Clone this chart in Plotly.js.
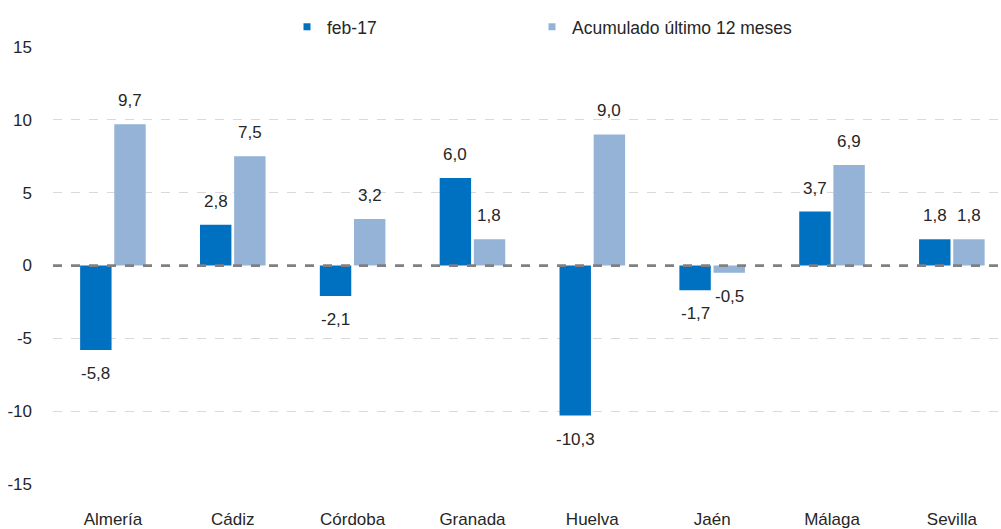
<!DOCTYPE html>
<html><head><meta charset="utf-8">
<script src="https://cdn.plot.ly/plotly-3.0.1.min.js"></script>
<style>html,body{margin:0;padding:0;background:#fff;}#chart{width:1001px;height:529px;}</style>
</head><body><div id="chart"></div>
<script>
var categories = ["Almería","Cádiz","Córdoba","Granada","Huelva","Jaén","Málaga","Sevilla"];
var seriesNames = ["feb-17","Acumulado último 12 meses"];
var seriesColors = ["#0070C0","#95B3D7"];
var febValues = [-5.8, 2.8, -2.1, 6.0, -10.3, -1.7, 3.7, 1.8];
var acumValues = [9.7, 7.5, 3.2, 1.8, 9.0, -0.5, 6.9, 1.8];
var yTicks = [-15, -10, -5, 0, 5, 10, 15];

var FONT = "Liberation Sans, Arial, sans-serif";
var TXT = '#262626';
var fmt = function(v){ return v.toFixed(1).replace('.', ','); };

var traces = [
  {type:'bar', name:seriesNames[0], x:categories, y:febValues, marker:{color:seriesColors[0]}, hoverinfo:'none', showlegend:false},
  {type:'bar', name:seriesNames[1], x:categories, y:acumValues, marker:{color:seriesColors[1]}, hoverinfo:'none', showlegend:false},
  // legend-only entries with small square markers (like the reference)
  {type:'scatter', mode:'markers', name:seriesNames[0], x:[null], y:[null], legend:'legend',
   marker:{symbol:'square', size:7, color:seriesColors[0]}, hoverinfo:'none'},
  {type:'scatter', mode:'markers', name:seriesNames[1], x:[null], y:[null], legend:'legend2',
   marker:{symbol:'square', size:7, color:seriesColors[1]}, hoverinfo:'none'}
];

var annotations = [];
[febValues, acumValues].forEach(function(vals, si){
  vals.forEach(function(v, i){
    annotations.push({
      x: categories[i], y: v, xref:'x', yref:'y',
      text: fmt(v), showarrow:false,
      xshift: si === 0 ? -17 : 17,
      yanchor: v >= 0 ? 'bottom' : 'top',
      yshift: v >= 0 ? 12 : -12,
      font:{family:FONT, size:17, color:TXT}
    });
  });
});

var legendBase = {orientation:'h', xanchor:'left', y:1.046, yanchor:'middle',
  font:{family:FONT, size:17.5, color:TXT}, itemwidth:30, bgcolor:'rgba(0,0,0,0)'};

var layout = {
  width:1001, height:529,
  margin:{l:53, r:0, t:47, b:45},
  paper_bgcolor:'#fff', plot_bgcolor:'#fff',
  font:{family:FONT, size:17, color:TXT},
  barmode:'group', bargap:0.43, bargroupgap:0.08,
  showlegend:true,
  legend:Object.assign({}, legendBase, {x:(287-53)/948}),
  legend2:Object.assign({}, legendBase, {x:(532-53)/948}),
  xaxis:{range:[-0.5, 7.41], showgrid:false, zeroline:false, showline:false, ticks:'',
         ticklabelstandoff:23, tickfont:{family:FONT, size:17, color:TXT}},
  yaxis:{range:[-15, 15], tickvals:yTicks, ticktext:yTicks.map(String),
         showgrid:true, gridcolor:'#D9D9D9', griddash:'dash', gridwidth:1,
         zeroline:false, showline:false, ticks:'', ticklabelstandoff:20,
         tickfont:{family:FONT, size:17, color:TXT}},
  shapes:[{type:'line', xref:'paper', x0:0, x1:1, yref:'y', y0:0, y1:0,
           line:{color:'#808080', width:2.75, dash:'dash'}, layer:'above'}],
  annotations:annotations
};

Plotly.newPlot('chart', traces, layout, {displayModeBar:false, staticPlot:true});
</script></body></html>
